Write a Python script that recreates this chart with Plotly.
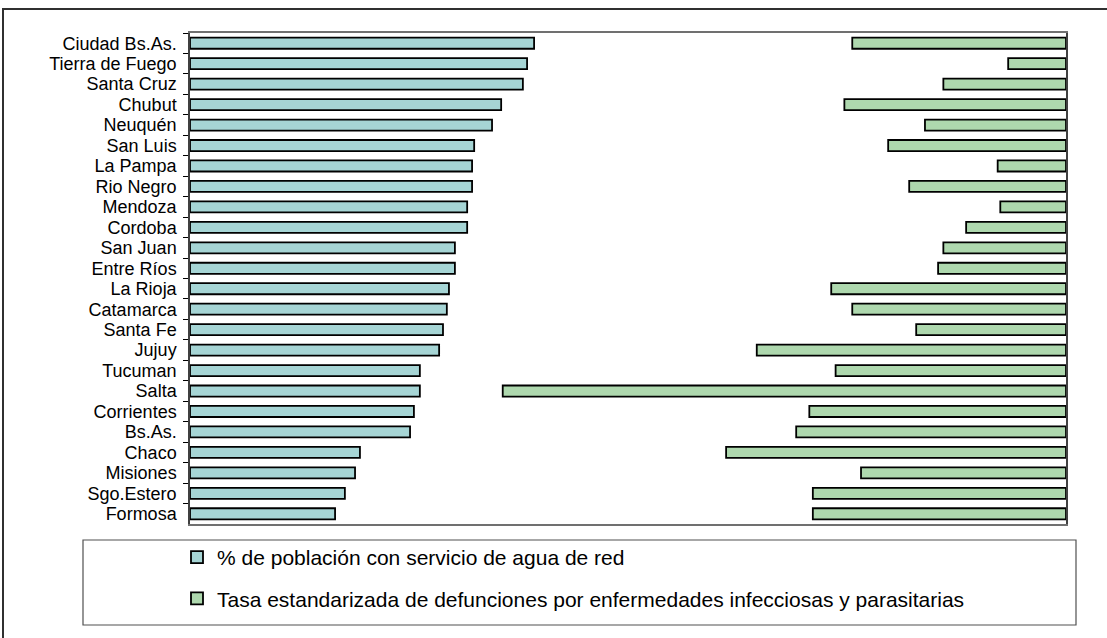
import plotly.graph_objects as go

provincias = ["Ciudad Bs.As.", "Tierra de Fuego", "Santa Cruz", "Chubut", "Neuquén",
              "San Luis", "La Pampa", "Rio Negro", "Mendoza", "Cordoba", "San Juan",
              "Entre Ríos", "La Rioja", "Catamarca", "Santa Fe", "Jujuy", "Tucuman",
              "Salta", "Corrientes", "Bs.As.", "Chaco", "Misiones", "Sgo.Estero", "Formosa"]

agua_red = [98.2, 96.2, 95.0, 88.8, 86.2, 81.1, 80.5, 80.5, 79.1, 79.1, 75.6, 75.6,
            73.9, 73.3, 72.2, 71.1, 65.6, 65.6, 63.9, 62.8, 48.5, 47.1, 44.2, 41.4]

tasa_infecciosas = [24.4, 6.6, 14.0, 25.3, 16.1, 20.3, 7.8, 17.9, 7.5, 11.4, 14.0, 14.6,
                    26.8, 24.4, 17.1, 35.3, 26.3, 64.3, 29.3, 30.8, 38.8, 23.4, 28.9, 28.9]

nombre_agua = "% de población con servicio de agua de red"
nombre_tasa = "Tasa estandarizada de defunciones por enfermedades infecciosas y parasitarias"

W, H = 1107, 638
L, R, T, B = 190, 1066, 33, 524


def px(x):
    return (x - L) / (R - L)


def py(y):
    return (B - y) / (B - T)


fig = go.Figure()
fig.add_trace(go.Bar(
    y=provincias, x=agua_red, orientation="h", name=nombre_agua,
    xaxis="x", yaxis="y", width=0.54, legendgroup="a",
    marker=dict(color="#a6d5d5", line=dict(color="black", width=1.8)),
))
fig.add_trace(go.Bar(
    y=provincias, x=tasa_infecciosas, orientation="h", name=nombre_tasa,
    xaxis="x2", yaxis="y", width=0.54, legendgroup="b",
    marker=dict(color="#aed8ae", line=dict(color="black", width=1.8)),
))

fig.update_layout(
    width=W, height=H,
    margin=dict(l=L, r=W - R, t=T, b=H - B, autoexpand=False),
    paper_bgcolor="white", plot_bgcolor="white",
    font=dict(family="Liberation Sans, Arial, sans-serif", color="black", size=21),
    barmode="overlay",
    showlegend=True,
    xaxis=dict(range=[0, 250], showgrid=False, zeroline=False, showticklabels=False,
               ticks="", showline=True, linecolor="#707070", linewidth=1.5, mirror=True),
    xaxis2=dict(range=[100, 0], overlaying="x", side="top", showgrid=False,
                zeroline=False, showticklabels=False, ticks="", showline=False),
    yaxis=dict(autorange="reversed", type="category", showgrid=False,
               tickmode="linear", dtick=1,
               ticks="outside", tickson="boundaries", ticklen=5, tickcolor="black",
               ticklabelstandoff=8,
               showline=True, linecolor="#404040", linewidth=1.5, mirror=True,
               tickfont=dict(size=18, color="black")),
    legend=dict(x=px(177), y=py(537), xanchor="left", yanchor="top",
                bgcolor="rgba(0,0,0,0)", borderwidth=0, tracegroupgap=11,
                traceorder="grouped", font=dict(size=21)),
    shapes=[
        dict(type="rect", xref="paper", yref="paper",
             x0=px(83), x1=px(1076), y0=py(625), y1=py(540),
             line=dict(color="#505050", width=1.2)),
        dict(type="rect", xref="paper", yref="paper",
             x0=px(3), x1=px(1130), y0=py(660), y1=py(9),
             line=dict(color="#303030", width=2)),
    ],
)

fig.write_html("out.html",
               config={"displayModeBar": False},
               post_script="document.body.style.margin='0';document.body.style.overflow='hidden';")
